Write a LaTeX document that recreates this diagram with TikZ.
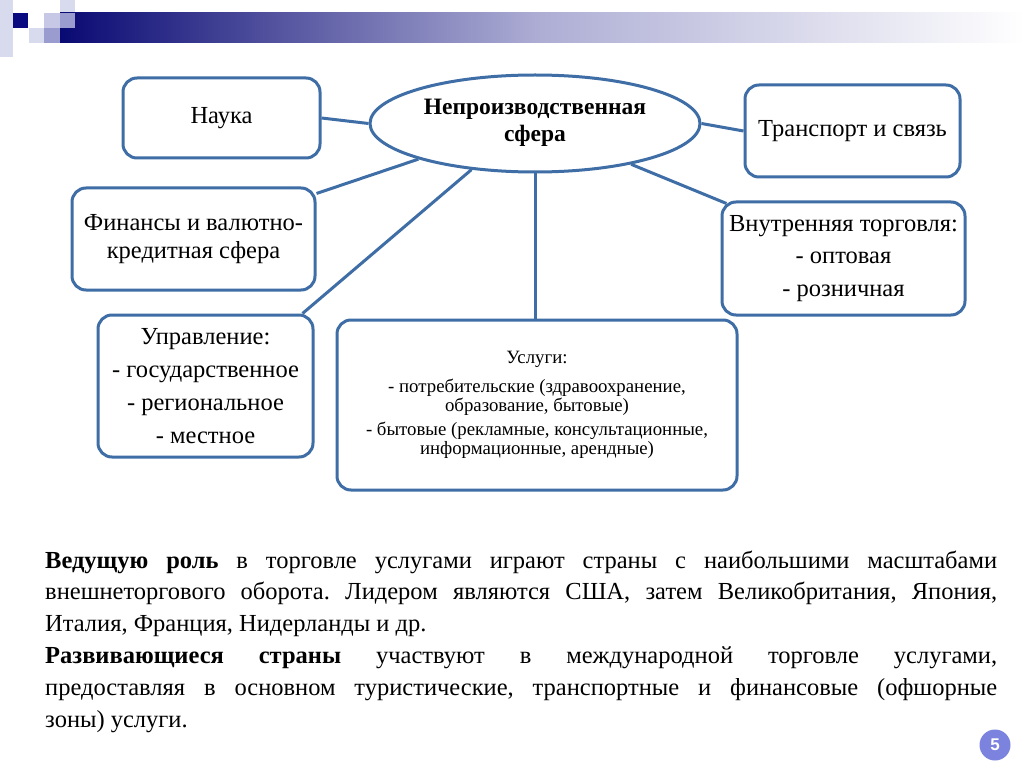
\documentclass[tikz,border=0pt]{standalone}
\usepackage{fontspec}
\setmainfont{Liberation Serif}
\newfontfamily\pgfont{Liberation Sans}
\usetikzlibrary{shapes.geometric}
\definecolor{boxblue}{HTML}{3F6DA5}
\definecolor{navy}{HTML}{0A0A80}
\definecolor{palesq}{HTML}{D8DAEE}
\definecolor{lightsq}{HTML}{C6C8E6}
\definecolor{medsq}{HTML}{9A9CCF}
\definecolor{pgcol}{HTML}{7B83DE}
\frenchspacing
\begin{document}
\begin{tikzpicture}[x=1pt,y=-1pt,
  rbox/.style={draw=boxblue, line width=3pt, rounded corners=14pt, fill=white,
    align=center, inner sep=0pt},
  conn/.style={draw=boxblue, line width=3pt},
  bfont/.style={font=\fontsize{24.5}{#1}\selectfont},
  lineS/.style={anchor=base west, inner sep=0pt, font=\fontsize{24.5}{30}\selectfont}
]
\useasboundingbox (0,0) rectangle (1024,767);
\fill[white] (0,0) rectangle (1024,767);
% header decoration
\fill[palesq] (0,0) rectangle (13,57);
\fill[navy] (13,13) rectangle (28,28);
\fill[palesq] (29,28) rectangle (44,43);
\fill[lightsq] (44,13) rectangle (60,28);
\fill[medsq] (44,28) rectangle (60,43);
\fill[palesq] (60,0) rectangle (75,13);
\shade[left color=navy!90!black, right color=white, middle color=navy!33!white] (60,13) rectangle (1024,43);
\fill[medsq] (60,13) rectangle (75,28);

% nodes
\node[draw=boxblue, line width=3pt, fill=white, ellipse, minimum width=330pt, minimum height=97pt,
  inner sep=0pt, align=center, font=\bfseries\fontsize{23.5}{27}\selectfont] (ell) at (535,123.5)
  {Непроизводственная\\сфера\rule[-6pt]{0pt}{1pt}};
\node[rbox, minimum width=197pt, minimum height=80pt, bfont=26] (nauka) at (221.5,118) {Наука};
\node[rbox, minimum width=215pt, minimum height=92pt, bfont=26] (trans) at (852.5,131) {Транспорт и связь};
\node[rbox, minimum width=243pt, minimum height=102pt, bfont=28.5] (fin) at (193.5,239) {Финансы и валютно-\\кредитная сфера};
\node[rbox, minimum width=243pt, minimum height=113pt, bfont=32.5] (vnut) at (843.5,258.5) {Внутренняя торговля:\\- оптовая\\- розничная};
\node[rbox, minimum width=215pt, minimum height=142pt, bfont=33] (upr) at (205.5,386) {Управление:\\- государственное\\- региональное\\- местное};
\node[rbox, minimum width=400pt, minimum height=170pt, font=\fontsize{18.8}{19.5}\selectfont] (usl) at (537,405)
  {Услуги:\\[9pt]- потребительские (здравоохранение,\\образование, бытовые)\\[4pt]- бытовые (рекламные, консультационные,\\информационные, арендные)};

% connectors
\draw[conn] (nauka.east) -- (ell.west);
\draw[conn] (ell.east) -- (trans.west);
\draw[conn] ([yshift=-7pt]fin.north east) -- (ell.197);
\draw[conn] ([xshift=-12pt]upr.north east) -- (ell.216);
\draw[conn] (ell.south) -- (ell.south |- usl.north);
\draw[conn] (ell.337) -- ([xshift=6pt,yshift=-3pt]vnut.north west);

% bottom text
\node[lineS] (l1) at (45,568) {\makebox[952pt][s]{\textbf{Ведущую роль} в торговле услугами играют страны с наибольшими масштабами}};
\node[lineS] (l2) at (45,599.8) {\makebox[952pt][s]{внешнеторгового оборота. Лидером являются США, затем Великобритания, Япония,}};
\node[lineS] (l3) at (45,631.6) {Италия, Франция, Нидерланды и др.};
\node[lineS] (l4) at (45,663.4) {\makebox[952pt][s]{\textbf{Развивающиеся страны} участвуют в международной торговле услугами,}};
\node[lineS] (l5) at (45,695.2) {\makebox[952pt][s]{предоставляя в основном туристические, транспортные и финансовые (офшорные}};
\node[lineS] (l6) at (45,727) {зоны) услуги.};

% page number
\node[circle, fill=pgcol, minimum size=31pt, inner sep=0pt, text=white,
  font=\pgfont\bfseries\fontsize{17}{17}\selectfont] (pg) at (995,745) {5};
\end{tikzpicture}
\end{document}
